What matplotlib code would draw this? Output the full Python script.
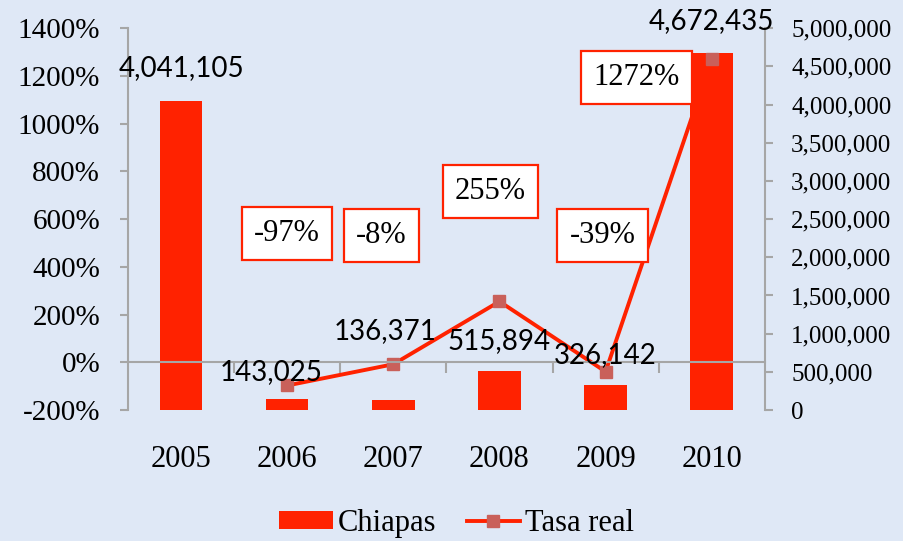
import numpy as np
import matplotlib.pyplot as plt
from matplotlib.ticker import FuncFormatter

# data
years = ['2005', '2006', '2007', '2008', '2009', '2010']
chiapas = [4041105, 143025, 136371, 515894, 326142, 4672435]
tasa_real = [np.nan, -97, -8, 255, -39, 1272]
tasa_labels = ['', '-97%', '-8%', '255%', '-39%', '1272%']

# label placement (pixel offsets from the mark)
bar_label_offsets = [(0, 33), (-16, 27), (-8, 69), (0, 30), (0, 30), (0, 32)]
tasa_box_offsets = [None, (0, 152), (-12, 129), (-9, 110), (-3, 136), (-75, -19)]

RED = '#FF2200'
GRAY = '#A6A6A6'
SERIF = 'Liberation Serif'
SANS = 'Lato'
px = 0.72  # pixels -> points at dpi 100

fig, ax = plt.subplots(figsize=(9.04, 5.41), dpi=100)
fig.patch.set_facecolor('#DFE8F6')
fig.subplots_adjust(left=0.1416, right=0.846, bottom=0.242, top=0.948)
ax.set_facecolor('none')

x = np.arange(len(years))

# bars on the right-hand axis
ax.bar(x, chiapas, width=0.4, color=RED, label='Chiapas')
ax.set_xlim(-0.5, len(years) - 0.5)
ax.set_ylim(0, 5000000)
ax.set_yticks(np.arange(0, 5000001, 500000))
ax.yaxis.set_major_formatter(FuncFormatter(lambda v, p: '{:,.0f}'.format(v)))

# growth rate on the left-hand axis
ax2 = ax.twinx()
ax.yaxis.tick_right()
ax2.yaxis.tick_left()

ax.tick_params(axis='y', length=6, width=1.5, color=GRAY, pad=13,
               labelsize=18, labelfontfamily=SERIF)
ax.set_xticks(x, years)
ax.set_xticks(np.arange(0.5, len(years) - 1), minor=True)
ax.tick_params(axis='x', which='both', length=0, pad=25, labelsize=22,
               labelfontfamily=SERIF)
for s in ['left', 'top', 'bottom']:
    ax.spines[s].set_visible(False)
ax.spines['right'].set_color(GRAY)
ax.spines['right'].set_linewidth(1.5)

ax2.plot(x, tasa_real, color=RED, lw=2.8, marker='s', ms=8,
         mfc='#C9605A', mec='#C9605A', label='Tasa real')
ax2.set_ylim(-200, 1400)
ax2.set_yticks(np.arange(-200, 1401, 200))
ax2.yaxis.set_major_formatter(FuncFormatter(lambda v, p: '{:.0f}%'.format(v)))
ax2.tick_params(axis='y', length=6, width=1.5, color=GRAY, pad=14,
                labelsize=21, labelfontfamily=SERIF)
for s in ['right', 'top']:
    ax2.spines[s].set_visible(False)
ax2.spines['left'].set_color(GRAY)
ax2.spines['left'].set_linewidth(1.5)
ax2.spines['bottom'].set_visible(True)
ax2.spines['bottom'].set_position(('data', 0))
ax2.spines['bottom'].set_color(GRAY)
ax2.spines['bottom'].set_linewidth(1.5)
ax2.xaxis.set_visible(True)
ax2.xaxis.set_ticks_position('bottom')
ax2.tick_params(axis='x', which='major', length=0, labelbottom=False)
ax2.tick_params(axis='x', which='minor', length=8, width=1.5, color=GRAY,
                direction='out', labelbottom=False)

# value labels above bars
for i, v in enumerate(chiapas):
    dx, dy = bar_label_offsets[i]
    ax2.annotate('{:,}'.format(v), xy=(i, v), xycoords=ax.transData,
                 xytext=(dx * px, dy * px), textcoords='offset points',
                 ha='center', va='center', fontsize=20, family=SANS,
                 color='black', zorder=5)

# boxed growth labels
for i, r in enumerate(tasa_real):
    if tasa_box_offsets[i] is None:
        continue
    dx, dy = tasa_box_offsets[i]
    ax2.annotate(tasa_labels[i], xy=(i, r), xytext=(dx * px, dy * px),
                 textcoords='offset points', ha='center', va='center',
                 fontsize=22, family=SERIF, zorder=6,
                 bbox=dict(boxstyle='square,pad=0.4', fc='white', ec=RED, lw=1.6))

h1, l1 = ax.get_legend_handles_labels()
h2, l2 = ax2.get_legend_handles_labels()
fig.legend(h1 + h2, l1 + l2, loc='lower center', bbox_to_anchor=(0.505, -0.045),
           ncol=2, frameon=False, prop={'family': SERIF, 'size': 22},
           handlelength=1.75, handleheight=0.55, handletextpad=0.15,
           columnspacing=1.0)

fig.savefig('out.png', dpi=100, facecolor=fig.get_facecolor())
